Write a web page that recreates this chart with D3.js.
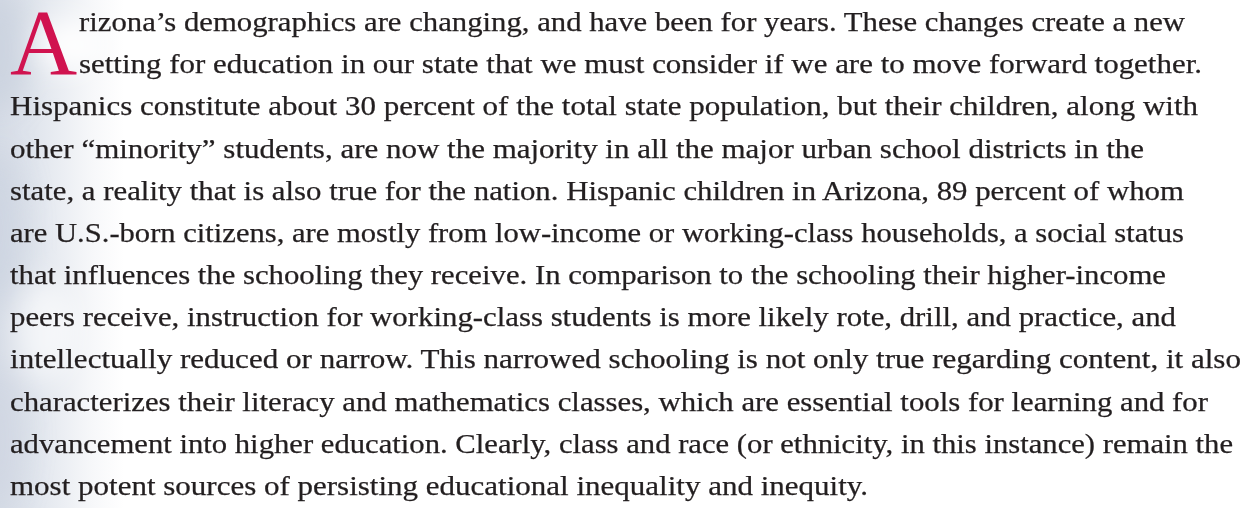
<!DOCTYPE html>
<html>
<head>
<meta charset="utf-8">
<script src="https://cdn.jsdelivr.net/npm/d3@7"></script>
<style>
  html, body { margin: 0; padding: 0; background: #ffffff; }
  svg { display: block; }
</style>
</head>
<body>
<svg id="chart" width="1244" height="508"></svg>
<script>
// ---- content ----
const dropCap = "A";
const lines = [
  "rizona\u2019s demographics are changing, and have been for years. These changes create a new",
  "setting for education in our state that we must consider if we are to move forward together.",
  "Hispanics constitute about 30 percent of the total state population, but their children, along with",
  "other \u201cminority\u201d students, are now the majority in all the major urban school districts in the",
  "state, a reality that is also true for the nation. Hispanic children in Arizona, 89 percent of whom",
  "are U.S.-born citizens, are mostly from low-income or working-class households, a social status",
  "that influences the schooling they receive. In comparison to the schooling their higher-income",
  "peers receive, instruction for working-class students is more likely rote, drill, and practice, and",
  "intellectually reduced or narrow. This narrowed schooling is not only true regarding content, it also",
  "characterizes their literacy and mathematics classes, which are essential tools for learning and for",
  "advancement into higher education. Clearly, class and race (or ethnicity, in this instance) remain the",
  "most potent sources of persisting educational inequality and inequity."
];

const lineStart = [79, 79, 10, 10, 10, 10, 10, 10, 10, 10, 10, 10];
const lineEnd   = [1185, 1202, 1198, 1144, 1184, 1184, 1166, 1176, 1241, 1208, 1233, 868];

const W = 1244, H = 508;
const svg = d3.select("#chart");

// background: soft bluish cloud at the left edge
const defs = svg.append("defs");
const g1 = defs.append("linearGradient").attr("id", "leftfade")
  .attr("x1", 0).attr("x2", 1).attr("y1", 0).attr("y2", 0);
[[0, "#d6dce6"], [0.025, "#dfe4ec"], [0.05, "#ebeef3"], [0.075, "#f7f8fa"], [0.1, "#ffffff"]]
  .forEach(([o, c]) => g1.append("stop").attr("offset", o).attr("stop-color", c));
svg.append("rect").attr("width", W).attr("height", H).attr("fill", "url(#leftfade)");

const blur = defs.append("filter").attr("id", "blur")
  .attr("x", "-100%").attr("y", "-100%").attr("width", "300%").attr("height", "300%");
blur.append("feGaussianBlur").attr("stdDeviation", 14);
const clouds = [
  {cx: 0, cy: 50, rx: 30, ry: 60, c: "#c4cddb", o: 0.55},
  {cx: 70, cy: 45, rx: 35, ry: 25, c: "#ffffff", o: 0.9},
  {cx: 0, cy: 230, rx: 25, ry: 80, c: "#c8d0de", o: 0.5},
  {cx: 45, cy: 330, rx: 30, ry: 50, c: "#ffffff", o: 0.6},
  {cx: 0, cy: 440, rx: 25, ry: 70, c: "#cbd2df", o: 0.5}
];
svg.append("g").attr("filter", "url(#blur)").selectAll("ellipse").data(clouds).join("ellipse")
  .attr("cx", d => d.cx).attr("cy", d => d.cy).attr("rx", d => d.rx).attr("ry", d => d.ry)
  .attr("fill", d => d.c).attr("opacity", d => d.o);

// scales
const yLine = d3.scaleLinear().domain([0, lines.length - 1]).range([31, 495]);

// drop cap
svg.append("text")
  .attr("x", 10).attr("y", yLine(1) + 1)
  .attr("font-family", "'Liberation Serif', 'Times New Roman', serif")
  .attr("font-size", 93)
  .attr("fill", "#d0134f")
  .text(dropCap);

// body lines
svg.append("g").selectAll("text").data(lines).join("text")
  .attr("x", (d, i) => lineStart[i])
  .attr("y", (d, i) => yLine(i))
  .attr("textLength", (d, i) => lineEnd[i] - lineStart[i])
  .attr("lengthAdjust", "spacingAndGlyphs")
  .attr("font-family", "'Liberation Serif', 'Times New Roman', serif")
  .attr("font-size", 27.5)
  .attr("fill", "#231f20")
  .attr("stroke", "#231f20")
  .attr("stroke-width", 0.25)
  .text(d => d);
</script>
</body>
</html>
